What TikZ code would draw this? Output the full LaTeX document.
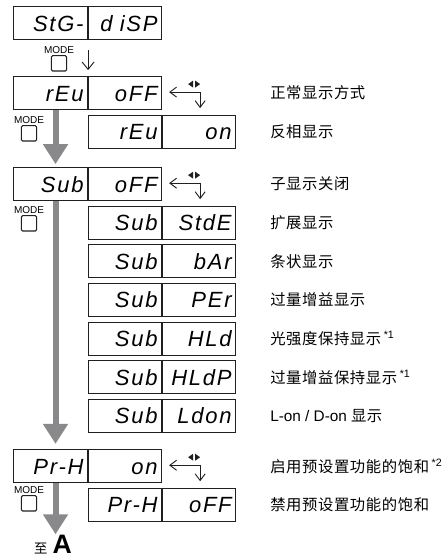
\documentclass[tikz,border=0pt]{standalone}
\usepackage{fontspec}
\setmainfont{Liberation Sans}
\newfontfamily\cjk[LetterSpace=4]{Noto Sans CJK SC}
\newfontfamily\cjkplain{Noto Sans CJK SC}
\newfontfamily\segfont[LetterSpace=8]{Liberation Sans}
\usetikzlibrary{arrows.meta,positioning}
\definecolor{flowgray}{RGB}{137,137,140}
\definecolor{boxline}{RGB}{35,31,32}
\newcommand\fnmark[1]{\,\raisebox{4.5pt}{\rmfamily\fontsize{8}{8}\selectfont *#1}}

\begin{document}
\begin{tikzpicture}[
  x=0.75pt, y=-0.75pt,
  node distance=3.4pt,
  cell/.style={rectangle, draw=boxline, line width=0.8pt, minimum height=24.75pt,
    inner xsep=3pt, inner ysep=1pt, text height=12pt, text depth=0pt, align=right,
    font=\segfont\itshape\fontsize{16.5}{17}\selectfont},
  lcell/.style={cell, text width=49.5pt},
  rcell/.style={cell, text width=48.75pt},
  note/.style={anchor=west, inner sep=0pt, font=\cjk\fontsize{11.5}{13}\selectfont},
  modetxt/.style={inner sep=0pt, font=\fontsize{7.5}{8}\selectfont},
  modekey/.style={rectangle, draw=boxline, line width=0.8pt, rounded corners=1pt,
    minimum size=11.5pt, inner sep=0pt},
  flow/.style={draw=flowgray, line width=4.5pt, -{Triangle[length=15pt,width=18pt]}},
  modearrow/.style={draw=boxline, line width=0.7pt, -{Straight Barb[length=5.5pt,width=9pt]}},
  cyc/.pic={
    \draw[boxline, line width=0.7pt,
      {Straight Barb[length=5pt,width=7.5pt]}-{Straight Barb[length=5pt,width=7.5pt]}]
      (7,-1) -- (38,-1) -- (38,15);
    \fill[boxline] (26,-9) -- (31,-12.5) -- (31,-5.5) -- cycle;
    \fill[boxline] (33,-12.5) -- (38,-9) -- (33,-5.5) -- cycle;
  }
]
\useasboundingbox (0,0) rectangle (448,558);

% top display
\node[lcell, anchor=north west] (stg) at (13,6) {StG-};
\node[rcell, right=0pt of stg] (disp) {d iSP};

% reverse display
\node[lcell, below=27pt of stg] (rev) {rEu};
\node[rcell, right=0pt of rev] (revoff) {oFF};
\node[rcell, below=3.4pt of rev.south east, anchor=north west] (rev2) {rEu};
\node[rcell, right=0pt of rev2] (revon) {on};

% sub display
\node[lcell, below=42.75pt of rev] (sub) {Sub};
\node[rcell, right=0pt of sub] (suboff) {oFF};
\node[rcell, below=3.4pt of sub.south east, anchor=north west] (std) {Sub};
\node[rcell, right=0pt of std] (stdv) {StdE};
\node[rcell, below=of std] (bar) {Sub};
\node[rcell, right=0pt of bar] (barv) {bAr};
\node[rcell, below=of bar] (per) {Sub};
\node[rcell, right=0pt of per] (perv) {PEr};
\node[rcell, below=of per] (hld) {Sub};
\node[rcell, right=0pt of hld] (hldv) {HLd};
\node[rcell, below=of hld] (hldp) {Sub};
\node[rcell, right=0pt of hldp] (hldpv) {HLdP};
\node[rcell, below=of hldp] (ldon) {Sub};
\node[rcell, right=0pt of ldon] (ldonv) {Ldon};

% preset saturation
\node[lcell, below=186pt of sub] (prh) {Pr-H};
\node[rcell, right=0pt of prh] (prhon) {on};
\node[rcell, below=3.4pt of prh.south east, anchor=north west] (prh2) {Pr-H};
\node[rcell, right=0pt of prh2] (prhoff) {oFF};

\node[anchor=base, inner sep=0pt] (goal) at (53,553)
  {{\cjkplain\fontsize{10}{10}\selectfont 至}\hspace{4pt}{\fontsize{20}{20}\selectfont\bfseries A}};
\coordinate (tipA) at ([xshift=3.75pt, yshift=-38.25pt]prh.south);

% MODE keys
\node[modetxt] (mode1) at (59,50) {MODE};
\node[modekey, below=1pt of mode1] (key1) {};
\node[modetxt] (mode2) at (29,120) {MODE};
\node[modekey, below=1pt of mode2] (key2) {};
\node[modetxt] (mode3) at (29,210) {MODE};
\node[modekey, below=1pt of mode3] (key3) {};
\node[modetxt] (mode4) at (29,490) {MODE};
\node[modekey, below=1pt of mode4] (key4) {};

% notes
\node[note] (n1) at (270,0 |- revoff) {正常显示方式};
\node[note] (n2) at (270,0 |- revon) {反相显示};
\node[note] (n3) at (270,0 |- suboff) {子显示关闭};
\node[note] (n4) at (270,0 |- stdv) {扩展显示};
\node[note] (n5) at (270,0 |- barv) {条状显示};
\node[note] (n6) at (270,0 |- perv) {过量增益显示};
\node[note] (n7) at (270,0 |- hldv) {光强度保持显示\fnmark{1}};
\node[note] (n8) at (270,0 |- hldpv) {过量增益保持显示\fnmark{1}};
\node[note] (n9) at (270,0 |- ldonv) {{\rmfamily L-on / D-on} 显示};
\node[note] (n10) at (270,0 |- prhon) {启用预设置功能的饱和\fnmark{2}};
\node[note] (n11) at (270,0 |- prhoff) {禁用预设置功能的饱和};

% cycle marks
\pic at (revoff.east) {cyc};
\pic at (suboff.east) {cyc};
\pic at (prhon.east) {cyc};

% arrows
\path[modearrow] ([yshift=-7.5pt]stg.south east) -- ([yshift=4.5pt]rev.north east);
\path[flow] ([xshift=3.75pt]rev.south) -- ([xshift=3.75pt, yshift=2.25pt]sub.north);
\path[flow] ([xshift=3.75pt]sub.south) -- ([xshift=3.75pt, yshift=4pt]prh.north);
\path[flow] ([xshift=3.75pt]prh.south) -- (tipA);

\end{tikzpicture}
\end{document}
